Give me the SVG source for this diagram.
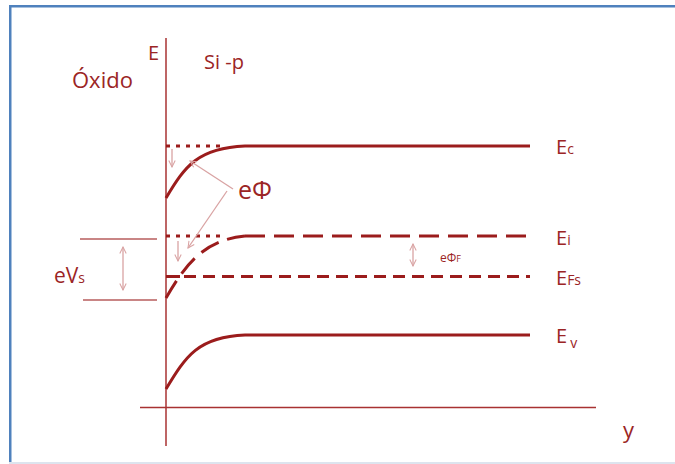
<svg xmlns="http://www.w3.org/2000/svg" width="675" height="464" viewBox="0 0 675 464">
<style>
.lbl{font-family:"Open Sans","Liberation Sans",sans-serif;fill:#9b2525}
.axis{stroke:#a83232;stroke-width:1.5;fill:none}
.band{stroke:#9b1c1c;stroke-width:3;fill:none}
.dot{stroke:#9b1c1c;stroke-width:3;stroke-dasharray:4 6;fill:none}
.dashA{stroke:#9b1c1c;stroke-width:3;stroke-dasharray:20 9;fill:none}
.dashB{stroke:#9b1c1c;stroke-width:3;stroke-dasharray:12 7;fill:none}
.thin{stroke:#d9a3a3;stroke-width:1.3;fill:none}
.ref{stroke:#c98585;stroke-width:2;fill:none}
</style>
<defs>
<marker id="ah" viewBox="0 0 10 10" refX="9" refY="5" markerWidth="8" markerHeight="8" orient="auto-start-reverse" markerUnits="userSpaceOnUse">
<path d="M1,1 L9,5 L1,9" fill="none" stroke="#d9a3a3" stroke-width="1.3"/>
</marker>
</defs>
<rect x="0" y="0" width="675" height="464" fill="#ffffff"/>
<rect x="9" y="5" width="666" height="2.5" fill="#4f81bd"/>
<rect x="9" y="5" width="2.5" height="458" fill="#4f81bd"/>
<rect x="9" y="462" width="666" height="2" fill="#dde4ee"/>

<g id="axes">
<line class="axis" x1="166" y1="38" x2="166" y2="446"/>
<line class="axis" x1="140" y1="407.5" x2="596" y2="407.5"/>
</g>

<g id="Ec">
<line class="dot" x1="166" y1="146" x2="222" y2="146"/>
<path class="band" d="M166,198 C185,166 198,148 245,146 L530,146"/>
<text class="lbl" x="556" y="154" font-size="20">E<tspan font-size="14">c</tspan></text>
</g>

<g id="Ei">
<line class="dot" x1="166" y1="236" x2="222" y2="236"/>
<path class="dashA" d="M166,298 C186,263 205,240 245,236"/>
<line class="dashA" x1="245" y1="236" x2="530" y2="236"/>
<text class="lbl" x="556" y="245" font-size="20">E<tspan font-size="14">i</tspan></text>
</g>

<g id="EFs">
<line class="band" x1="166" y1="276.5" x2="180" y2="276.5"/>
<line class="dashB" x1="184" y1="276.5" x2="530" y2="276.5"/>
<text class="lbl" x="556" y="285" font-size="20">E<tspan font-size="14">Fs</tspan></text>
</g>

<g id="Ev">
<path class="band" d="M166,389 C186,356 198,337 245,335 L530,335"/>
<text class="lbl" x="556" y="343" font-size="20">E<tspan font-size="14" dx="3" dy="5">v</tspan></text>
</g>

<g id="labels">
<text class="lbl" x="72" y="88" font-size="22">Óxido</text>
<text class="lbl" x="148" y="60" font-size="20">E</text>
<text class="lbl" x="204" y="69" font-size="20">Si -p</text>
<text class="lbl" x="238" y="199" font-size="25">eΦ</text>
<text class="lbl" x="54" y="283" font-size="21">eV<tspan font-size="14">s</tspan></text>
<text class="lbl" x="440" y="262" font-size="12">eΦ<tspan font-size="9">F</tspan></text>
<text class="lbl" x="623" y="438" font-size="22">y</text>
</g>

<g id="connectors">
<line class="thin" x1="233" y1="189" x2="190" y2="161" marker-end="url(#ah)"/>
<line class="thin" x1="227" y1="191" x2="188" y2="248" marker-end="url(#ah)"/>
<line class="thin" x1="172" y1="149" x2="172" y2="167" marker-end="url(#ah)"/>
<line class="thin" x1="178" y1="241" x2="178" y2="261" marker-end="url(#ah)"/>
<line class="thin" x1="123" y1="247" x2="123" y2="290" marker-start="url(#ah)" marker-end="url(#ah)"/>
<line class="thin" x1="413" y1="244" x2="413" y2="266" marker-start="url(#ah)" marker-end="url(#ah)"/>
<line class="ref" x1="80" y1="239" x2="157" y2="239"/>
<line class="ref" x1="83" y1="300" x2="157" y2="300"/>
</g>
</svg>
